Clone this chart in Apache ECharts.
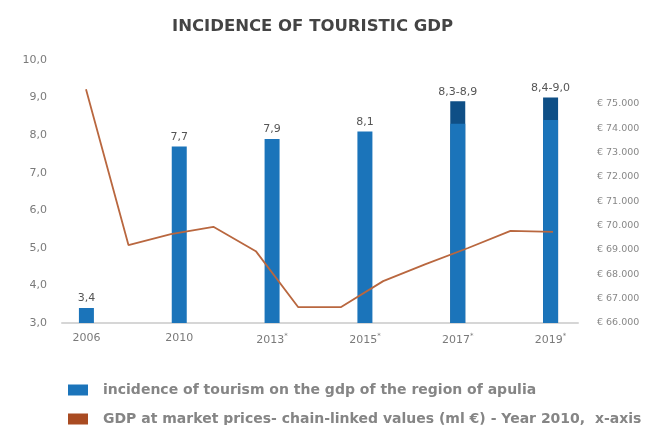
<!DOCTYPE html>
<html>
<head>
<meta charset="utf-8">
<title>Incidence of touristic GDP</title>
<script src="https://cdn.jsdelivr.net/npm/echarts@6/dist/echarts.min.js"></script>
<style>
  html, body { margin: 0; padding: 0; background: #ffffff; }
  #chart { width: 658px; height: 425px; }
</style>
</head>
<body>
<div id="chart"></div>
<script>
// Survey years shown on the horizontal axis ('*' marks provisional years)
const categories = ['2006', '2010', '2013*', '2015*', '2017*', '2019*'];

// Incidence of tourism on regional GDP (%): lower estimate and, where a range is given, upper estimate
const incidenceLow = [3.4, 7.7, 7.9, 8.1, 8.3, 8.4];
const incidenceHigh = [null, null, null, null, 8.9, 9.0];

// GDP at market prices, chain-linked values (ml €), yearly series
const gdpYears = ['2008', '2009', '2010', '2011', '2012', '2013', '2014', '2015', '2016', '2017', '2018', '2019'];
const gdpValues = [75600, 69200, 69650, 69950, 68950, 66650, 66650, 67720, 68420, 69080, 69780, 69740];

// Axis tick values
const leftTicks = { min: 3, max: 10, interval: 1 };
const rightTicks = { min: 66000, max: 76800, interval: 1000, lastLabel: 75000 };

const legendNames = [
  'incidence of tourism on the gdp of the region of apulia',
  'GDP at market prices- chain-linked values (ml €) - Year 2010,  x-axis'
];

const BLUE = '#1b74ba';
const DARK_BLUE = '#0f4f86';
const BROWN = '#b9673f';
const LEGEND_BROWN = '#a94b22';
const AXIS_TEXT = '#7a7a7a';
const FONT = 'DejaVu Sans';

const fmtDecimal = v => v.toFixed(1).replace('.', ',');
const fmtEuro = v => '€ ' + Math.round(v / 1000) + '.000';

const chart = echarts.init(document.getElementById('chart'), null, { renderer: 'canvas' });

const gridTop = 60, gridBottom = 102;

// one legend block per row so each sits on its own line
const legendRow = (name, color, y) => ({
  left: 63,
  top: y,
  itemWidth: 20,
  itemHeight: 11,
  icon: 'rect',
  selectedMode: false,
  data: [{ name: name, itemStyle: { color: color } }],
  textStyle: { fontFamily: FONT, fontSize: 14, fontWeight: 'bold', color: '#858585', padding: [0, 0, 0, 10] }
});

chart.setOption({
  animation: false,
  backgroundColor: '#ffffff',
  textStyle: { fontFamily: FONT },
  title: {
    text: 'INCIDENCE OF TOURISTIC GDP',
    left: 167,
    top: 13,
    textStyle: { fontFamily: FONT, fontSize: 16.5, fontWeight: 'bold', color: '#444444' }
  },
  legend: [
    legendRow(legendNames[0], BLUE, 378),
    legendRow(legendNames[1], LEGEND_BROWN, 407)
  ],
  grid: [
    // bars
    { left: 40, right: 61, top: gridTop, bottom: gridBottom },
    // yearly GDP line, spread between the first and last bar
    { left: 86, right: 105, top: gridTop, bottom: gridBottom },
    // visible axes frame
    { left: 62, right: 80, top: gridTop, bottom: gridBottom }
  ],
  xAxis: [
    {
      gridIndex: 0,
      type: 'category',
      data: categories,
      boundaryGap: true,
      axisLine: { show: false },
      axisTick: { show: false },
      axisLabel: {
        interval: 0,
        margin: 10,
        formatter: v => v.endsWith('*') ? '{y|' + v.slice(0, -1) + '}{s|*}' : '{y|' + v + '}',
        rich: {
          y: { fontFamily: FONT, fontSize: 11, color: AXIS_TEXT },
          s: { fontFamily: FONT, fontSize: 7, color: AXIS_TEXT, padding: [0, 0, 7, 0] }
        }
      }
    },
    {
      gridIndex: 1,
      type: 'category',
      data: gdpYears,
      boundaryGap: false,
      show: false
    },
    {
      gridIndex: 2,
      type: 'category',
      data: [''],
      axisLine: { show: true, lineStyle: { color: '#d6d6d6', width: 2 } },
      axisTick: { show: false },
      axisLabel: { show: false }
    }
  ],
  yAxis: [
    {
      gridIndex: 0, type: 'value',
      min: leftTicks.min, max: leftTicks.max, interval: leftTicks.interval,
      show: false
    },
    {
      gridIndex: 1, type: 'value',
      min: rightTicks.min, max: rightTicks.max, interval: rightTicks.interval,
      show: false
    },
    {
      gridIndex: 2, type: 'value', position: 'left',
      min: leftTicks.min, max: leftTicks.max, interval: leftTicks.interval,
      axisLine: { show: false }, axisTick: { show: false }, splitLine: { show: false },
      axisLabel: { margin: 15, fontFamily: FONT, fontSize: 11, color: AXIS_TEXT, formatter: fmtDecimal }
    },
    {
      gridIndex: 2, type: 'value', position: 'right',
      min: rightTicks.min, max: rightTicks.max, interval: rightTicks.interval,
      axisLine: { show: false }, axisTick: { show: false }, splitLine: { show: false },
      axisLabel: {
        margin: 19, fontFamily: FONT, fontSize: 9.5, color: '#888888',
        showMaxLabel: false,
        formatter: v => v > rightTicks.lastLabel ? '' : fmtEuro(v)
      }
    }
  ],
  series: [
    {
      // upper end of the estimated range, drawn behind the lower estimate
      name: 'range',
      type: 'bar',
      xAxisIndex: 0, yAxisIndex: 0,
      data: incidenceHigh,
      barWidth: 15,
      barGap: '-100%',
      itemStyle: { color: DARK_BLUE },
      label: {
        show: true, position: 'top', distance: 4,
        fontFamily: FONT, fontSize: 11, color: '#555555',
        formatter: p => fmtDecimal(incidenceLow[p.dataIndex]) + '-' + fmtDecimal(p.value)
      }
    },
    {
      name: legendNames[0],
      type: 'bar',
      xAxisIndex: 0, yAxisIndex: 0,
      data: incidenceLow,
      barWidth: 15,
      barGap: '-100%',
      itemStyle: { color: BLUE },
      label: {
        show: true, position: 'top', distance: 4,
        fontFamily: FONT, fontSize: 11, color: '#555555',
        formatter: p => incidenceHigh[p.dataIndex] == null ? fmtDecimal(p.value) : ''
      }
    },
    {
      name: legendNames[1],
      type: 'line',
      xAxisIndex: 1, yAxisIndex: 1,
      data: gdpValues,
      symbol: 'none',
      lineStyle: { color: BROWN, width: 1.8 },
      itemStyle: { color: BROWN },
      z: 3
    }
  ]
});
</script>
</body>
</html>
